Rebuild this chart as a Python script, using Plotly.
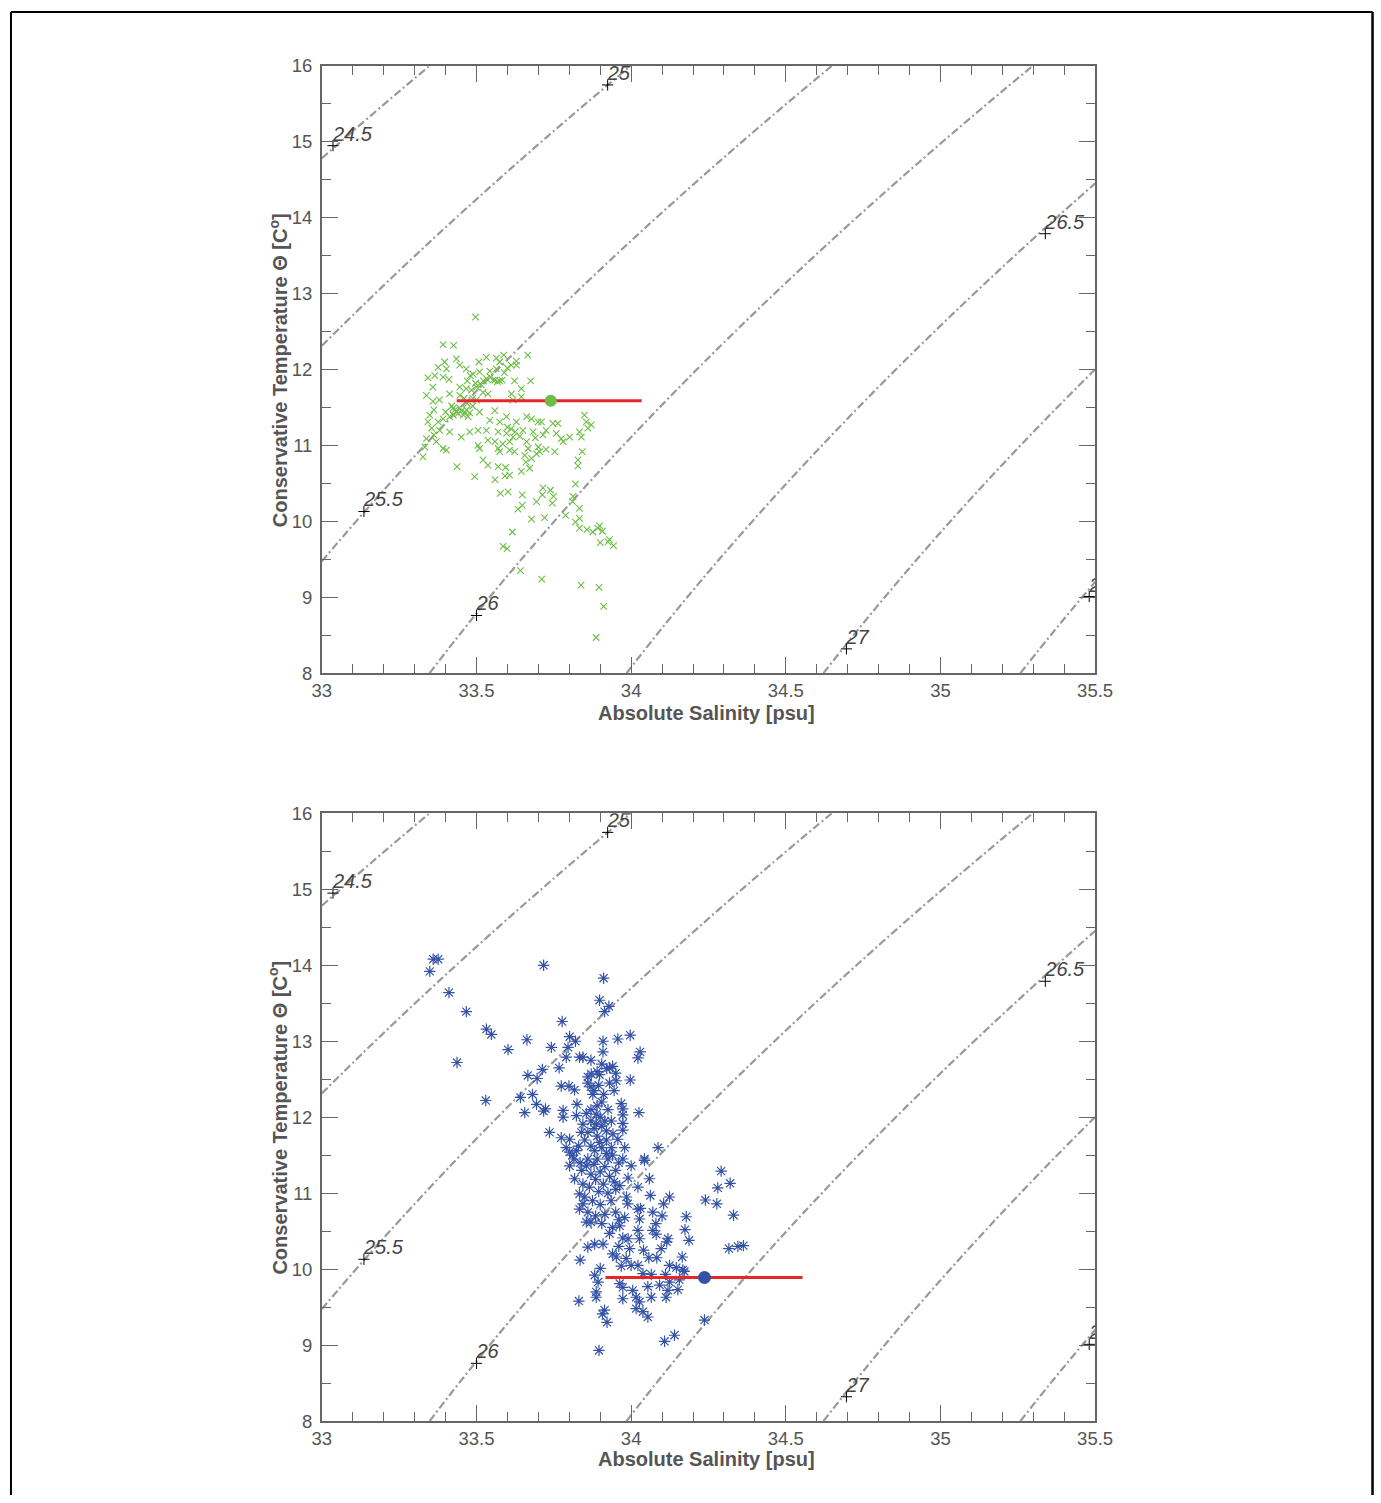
import numpy as np
import plotly.graph_objects as go

# ---------------- data ----------------
top_S = [33.497,33.392,33.426,33.666,33.435,33.532,33.508,33.564,33.588,33.575,33.629,33.629,33.376,33.397,33.403,33.446,33.467,33.365,33.343,33.392,
         33.411,33.489,33.510,33.543,33.564,33.553,33.575,33.623,33.675,33.359,33.446,33.467,33.500,33.521,33.338,33.359,33.413,33.446,33.484,33.537,
         33.613,33.645,33.645,33.618,33.424,33.413,33.435,33.462,33.473,33.392,33.349,33.343,33.376,33.510,33.559,33.543,33.575,33.597,33.629,33.662,
         33.678,33.699,33.710,33.747,33.763,33.849,33.855,33.871,33.860,33.381,33.413,33.451,33.478,33.505,33.532,33.537,33.570,33.597,33.618,33.650,
         33.683,33.715,33.758,33.774,33.801,33.780,33.833,33.839,33.338,33.333,33.327,33.370,33.392,33.403,33.505,33.510,33.570,33.575,33.607,33.607,
         33.623,33.662,33.667,33.656,33.678,33.694,33.704,33.753,33.842,33.828,33.437,33.494,33.521,33.537,33.570,33.594,33.607,33.672,33.828,33.820,
         33.577,33.602,33.648,33.715,33.739,33.713,33.694,33.749,33.745,33.812,33.810,33.833,33.634,33.648,33.678,33.720,33.788,33.820,33.833,33.833,
         33.857,33.876,33.892,33.898,33.907,33.900,33.925,33.930,33.943,33.616,33.586,33.599,33.642,33.711,33.838,33.896,33.911,33.887,
         33.420,33.430,33.445,33.452,33.440,33.458,33.468,33.478,33.425,33.400,33.470,33.488,33.515,33.522,33.532,33.545,33.497,33.488,33.500,33.560,
         33.568,33.583,33.590,33.600,33.612,33.470,33.480,33.460,33.380,33.362,33.355,33.362,33.600,33.612,33.625,33.640,33.560,33.585,33.690,33.725,
         33.700,33.725,33.560,33.592,33.660,33.645]
top_T = [12.69,12.33,12.32,12.19,12.14,12.16,12.10,12.15,12.19,12.10,12.11,12.06,12.03,12.10,12.01,12.06,12.01,11.92,11.89,11.90,
         11.87,11.94,11.97,11.98,12.01,11.86,11.85,11.85,11.85,11.77,11.77,11.75,11.77,11.70,11.66,11.58,11.68,11.66,11.73,11.68,
         11.68,11.75,11.64,11.60,11.49,11.38,11.44,11.44,11.38,11.35,11.40,11.31,11.31,11.44,11.46,11.33,11.31,11.38,11.31,11.38,
         11.35,11.31,11.31,11.29,11.29,11.40,11.31,11.27,11.23,11.20,11.18,11.11,11.18,11.20,11.20,11.07,11.18,11.16,11.11,11.20,
         11.18,11.14,11.16,11.09,11.11,11.05,11.18,11.11,11.09,10.98,10.85,11.05,10.96,10.94,11.00,10.96,10.96,10.92,11.05,10.94,
         10.92,11.05,10.96,10.87,10.83,10.89,10.92,10.92,10.92,10.81,10.72,10.59,10.81,10.74,10.72,10.71,10.61,10.70,10.73,10.49,
         10.37,10.39,10.35,10.44,10.41,10.35,10.26,10.33,10.24,10.33,10.26,10.17,10.16,10.21,10.03,10.05,10.08,9.99,10.04,9.91,
         9.89,9.86,9.91,9.94,9.87,9.72,9.73,9.76,9.68,9.86,9.67,9.64,9.35,9.24,9.16,9.13,8.88,8.47,
         11.52,11.47,11.50,11.46,11.42,11.40,11.47,11.43,11.40,11.44,11.55,11.52,11.80,11.85,11.88,11.90,11.82,11.62,11.60,11.86,
         11.84,11.86,11.96,12.02,12.06,11.85,11.92,11.62,11.60,11.47,11.23,11.14,11.24,11.22,11.18,11.12,11.05,11.02,11.10,11.20,
         10.98,10.95,10.55,10.60,10.78,10.66]

bot_S = [33.360,33.376,33.349,33.717,33.411,33.467,33.532,33.548,33.663,33.602,33.437,33.777,33.801,33.820,33.796,33.742,33.790,33.833,33.844,33.713,
         33.767,33.666,33.696,33.530,33.642,33.681,33.694,33.656,33.723,33.717,33.774,33.799,33.817,33.860,33.780,33.780,33.823,33.825,33.736,33.774,
         33.801,33.844,33.839,33.790,33.823,33.911,33.898,33.928,33.914,33.909,33.957,33.997,33.909,34.029,34.022,33.930,33.921,33.940,33.871,33.898,
         33.950,33.952,33.997,33.876,33.911,33.968,33.973,34.025,33.973,33.973,33.973,33.936,33.887,33.887,33.920,33.941,33.957,33.898,33.936,33.979,
         34.087,33.920,34.043,33.882,33.801,33.810,33.801,33.855,33.817,33.844,33.833,33.844,33.833,33.855,33.860,33.835,33.831,34.291,34.320,34.280,
         34.240,34.277,34.331,34.178,34.174,34.187,34.316,34.345,34.363,34.043,34.059,33.963,34.000,33.973,34.022,34.062,34.124,34.105,33.989,34.022,
         34.030,34.070,33.979,34.027,34.022,33.963,34.070,34.081,34.119,34.115,33.930,33.973,34.027,33.909,33.882,34.097,33.995,33.952,33.984,34.057,
         34.083,34.165,34.022,33.968,34.124,34.146,34.167,34.172,33.900,34.038,34.065,34.111,33.882,33.893,34.156,34.124,33.963,33.973,34.005,34.054,
         34.092,34.151,34.119,34.016,34.027,34.065,34.113,33.973,33.887,33.887,34.016,34.038,34.054,33.914,33.907,33.922,34.237,34.140,34.108,33.896,
         33.860,33.870,33.880,33.895,33.905,33.890,33.870,33.855,33.900,33.915,33.870,33.880,33.905,33.860,33.890,33.920,33.850,33.870,33.905,33.925,
         33.890,33.860,33.835,33.880,33.915,33.950,33.900,33.870,33.840,33.930,33.885,33.910,33.945,33.865,33.895,33.925,33.850,33.875,33.900,33.935,
         33.860,33.885,33.915,33.950,33.870,33.905,33.940,33.960,33.985,33.950,33.990,33.960,33.940,33.830,33.815,33.990,33.960,33.940,34.000,34.040,
         34.080,34.100,33.925,33.945,33.890,33.905,33.870,33.930]
bot_T = [14.08,14.08,13.92,14.00,13.64,13.39,13.16,13.09,13.02,12.89,12.72,13.26,13.06,13.00,12.92,12.92,12.79,12.79,12.79,12.63,
         12.65,12.55,12.51,12.22,12.26,12.30,12.17,12.06,12.11,12.08,12.41,12.41,12.36,12.53,12.09,12.00,12.02,12.17,11.80,11.73,
         11.71,11.91,11.80,11.60,11.56,13.83,13.54,13.46,13.39,13.00,13.03,13.08,12.86,12.86,12.78,12.65,12.64,12.67,12.57,12.56,
         12.58,12.48,12.49,12.30,12.30,12.18,12.11,12.06,12.03,11.92,11.83,11.95,12.04,11.91,11.82,11.78,11.71,11.67,11.60,11.60,
         11.60,11.52,11.45,11.56,11.54,11.50,11.36,11.36,11.19,11.12,10.99,10.86,10.79,10.62,10.29,10.12,9.58,11.29,11.13,11.07,
         10.91,10.86,10.71,10.69,10.52,10.38,10.27,10.30,10.31,11.43,11.19,11.10,11.36,11.45,11.08,10.97,10.95,10.86,10.86,10.79,
         10.80,10.75,10.68,10.66,10.51,10.57,10.51,10.46,10.40,10.36,10.47,10.41,10.40,10.33,10.33,10.27,10.27,10.16,10.14,10.15,
         10.15,10.16,10.05,10.04,10.05,10.02,9.99,9.97,10.01,9.94,9.93,9.93,9.92,9.83,9.86,9.83,9.81,9.76,9.72,9.77,
         9.79,9.73,9.72,9.63,9.57,9.63,9.63,9.61,9.70,9.63,9.48,9.44,9.37,9.46,9.41,9.30,9.33,9.13,9.05,8.93,
         12.45,12.40,12.35,12.42,12.20,12.15,12.10,12.05,12.00,11.95,11.95,11.85,11.88,11.80,11.75,11.70,11.70,11.62,11.60,11.45,
         11.45,11.45,11.40,11.38,11.35,11.30,11.28,11.25,11.30,11.22,11.18,11.12,11.15,11.08,11.02,11.00,10.95,10.90,10.85,10.90,
         10.75,10.70,10.72,10.75,10.62,10.60,10.55,10.65,10.95,11.05,11.20,11.40,11.50,11.62,11.45,10.40,10.30,10.20,10.05,10.25,
         10.60,10.70,12.10,12.35,12.60,12.70,12.75,12.45]

top_mean = (33.740, 11.59)
top_range = (33.436, 34.034)
bot_mean = (34.237, 9.89)
bot_range = (33.917, 34.554)

# isopycnal label positions (clabel style)
lab_text = ["24.5", "25", "25.5", "26", "26.5", "27", "27.5"]
lab_S = [33.036, 33.924, 33.136, 33.500, 35.339, 34.696, 35.481]
lab_T = [14.95, 15.75, 10.13, 8.76, 13.79, 8.32, 9.01]
sigma_levels = [24.5, 27.5, 0.5]  # start, end, step
p_ref_bar = 0.5                   # reference pressure of the density field

x_ticks = [33, 33.5, 34, 34.5, 35, 35.5]
y_ticks = [8, 9, 10, 11, 12, 13, 14, 15, 16]

# ---------------- density grid (UNESCO EOS-80) ----------------
Sg = np.linspace(33, 35.5, 251)
Tg = np.linspace(8, 16, 401)
SS, TT = np.meshgrid(Sg, Tg)
rho_w = (999.842594 + 6.793952e-2*TT - 9.095290e-3*TT**2 + 1.001685e-4*TT**3
         - 1.120083e-6*TT**4 + 6.536332e-9*TT**5)
A = 0.824493 - 4.0899e-3*TT + 7.6438e-5*TT**2 - 8.2467e-7*TT**3 + 5.3875e-9*TT**4
B = -5.72466e-3 + 1.0227e-4*TT - 1.6546e-6*TT**2
rho0 = rho_w + A*SS + B*SS**1.5 + 4.8314e-4*SS**2
Kw = 19652.21 + 148.4206*TT - 2.327105*TT**2 + 1.360477e-2*TT**3 - 5.155288e-5*TT**4
K0 = (Kw + SS*(54.6746 - 0.603459*TT + 1.09987e-2*TT**2 - 6.1670e-5*TT**3)
      + SS**1.5*(7.944e-2 + 1.6483e-2*TT - 5.3009e-4*TT**2))
sigma = rho0 / (1 - p_ref_bar / K0) - 1000.0

FONT = "Liberation Sans, Arial, Helvetica, sans-serif"
GRAY = "#666666"
TXT = "#555555"

fig = go.Figure()

panels = [
    dict(xa="x", ya="y", S=top_S, T=top_T, mean=top_mean, rng=top_range,
         mk=dict(symbol="x-thin", size=6.5, color="#6cbf45", line=dict(color="#6cbf45", width=1.1)),
         mc="#6cbf45", ms=12),
    dict(xa="x2", ya="y2", S=bot_S, T=bot_T, mean=bot_mean, rng=bot_range,
         mk=dict(symbol="asterisk-open", size=9.5, color="#3553a6", line=dict(color="#3553a6", width=1.2)),
         mc="#3553a6", ms=13),
]

for p in panels:
    fig.add_trace(go.Contour(
        x=Sg, y=Tg, z=sigma, xaxis=p["xa"], yaxis=p["ya"],
        contours=dict(start=sigma_levels[0], end=sigma_levels[1], size=sigma_levels[2],
                      coloring="none", showlabels=False),
        line=dict(color="#999999", width=2.2, dash="8px,3px,2px,3px"),
        showscale=False, hoverinfo="skip"))
    fig.add_trace(go.Scatter(
        x=p["S"], y=p["T"], mode="markers", xaxis=p["xa"], yaxis=p["ya"],
        marker=p["mk"], showlegend=False))
    fig.add_trace(go.Scatter(
        x=[p["rng"][0], p["rng"][1]], y=[p["mean"][1], p["mean"][1]], mode="lines",
        xaxis=p["xa"], yaxis=p["ya"], line=dict(color="#e8262a", width=3), showlegend=False))
    fig.add_trace(go.Scatter(
        x=[p["mean"][0]], y=[p["mean"][1]], mode="markers", xaxis=p["xa"], yaxis=p["ya"],
        marker=dict(symbol="circle", size=p["ms"], color=p["mc"]), showlegend=False))
    fig.add_trace(go.Scatter(
        x=lab_S, y=lab_T, mode="markers", xaxis=p["xa"], yaxis=p["ya"], cliponaxis=False,
        marker=dict(symbol="cross-thin", size=8, color="black", line=dict(color="black", width=1)),
        showlegend=False))
    fig.add_trace(go.Scatter(
        x=lab_S, y=lab_T, text=lab_text, mode="text", textposition="top right",
        xaxis=p["xa"], yaxis=p["ya"], cliponaxis=True,
        textfont=dict(family=FONT, size=20, color="#444444", style="italic"),
        showlegend=False))

# layout geometry: the photographed canvas is slightly larger than the picture,
# and the page keeps an 8px body margin -> map picture pixels to figure paper coords
OFF = 8
SX, SY = 1408 / 1381, 1521 / 1503
W = int(round(1381 * SX)) - 2 * OFF
H = int(round(1503 * SY)) - 2 * OFF
def px(xp):
    return (xp * SX - OFF) / W
def py(yp):
    return 1 - (yp * SY - OFF) / H

x0, x1 = px(320), px(1094)
top_y = (py(671.5), py(63))
bot_y = (py(1421), py(812))

axis_common = dict(
    showgrid=False, zeroline=False, showline=True, linecolor=GRAY, linewidth=1.5,
    mirror="allticks", ticks="inside", ticklen=16, tickwidth=1.2, tickcolor=GRAY,
    tickfont=dict(family=FONT, size=18.5, color=TXT),
)
xa = dict(axis_common, range=[33, 35.5], tickvals=x_ticks, ticktext=[f"{v:g}" for v in x_ticks],
          minor=dict(ticks="inside", ticklen=9, dtick=0.1, tickcolor=GRAY, tickwidth=1.2),
          domain=[x0, x1], ticklabelstandoff=0)
ya = dict(axis_common, range=[8, 16], tickvals=y_ticks, ticktext=[str(v) for v in y_ticks],
          minor=dict(ticks="inside", ticklen=9, dtick=0.5, tickcolor=GRAY, tickwidth=1.2),
          ticklabelstandoff=4)

fig.update_layout(
    width=W, height=H, margin=dict(l=0, r=0, t=0, b=0),
    paper_bgcolor="white", plot_bgcolor="white", showlegend=False,
    xaxis=dict(xa, anchor="y"), yaxis=dict(ya, domain=list(top_y), anchor="x"),
    xaxis2=dict(xa, anchor="y2"), yaxis2=dict(ya, domain=list(bot_y), anchor="x2"),
)

anns = []
for (xt_y, yt_y) in [(711, 368), (1459, 1117)]:
    anns.append(dict(text="<b>Absolute Salinity [psu]</b>", x=px(705), y=py(xt_y),
                     xref="paper", yref="paper", showarrow=False,
                     font=dict(family=FONT, size=20, color=TXT), xanchor="center", yanchor="middle"))
    anns.append(dict(text="<b>Conservative Temperature \u0398 [C<sup>o</sup>]</b>", x=px(276),
                     y=py(yt_y), xref="paper", yref="paper", showarrow=False, textangle=-90,
                     font=dict(family=FONT, size=20, color=TXT), xanchor="center", yanchor="middle"))
fig.update_layout(annotations=anns)

# outer frame (as close to the page edge as the figure allows)
fx0, fx1, fy0 = 1.0 / W, 1 - 1.5 / W, 1 - 1.0 / H
fig.add_shape(type="line", xref="paper", yref="paper", x0=fx0, x1=fx1, y0=fy0, y1=fy0,
              line=dict(color="black", width=2))
fig.add_shape(type="line", xref="paper", yref="paper", x0=fx0, x1=fx0, y0=0, y1=fy0,
              line=dict(color="black", width=2))
fig.add_shape(type="line", xref="paper", yref="paper", x0=fx1, x1=fx1, y0=0, y1=fy0,
              line=dict(color="black", width=2.5))

fig.write_html("out.html")
